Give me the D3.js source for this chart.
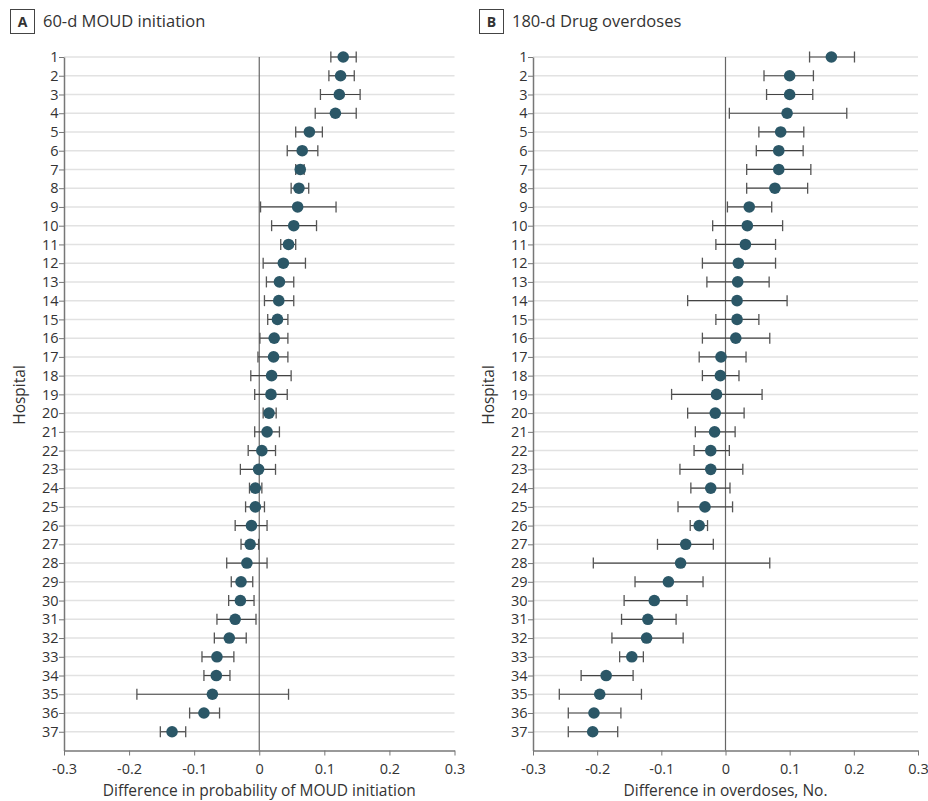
<!DOCTYPE html>
<html lang="en">

<head>
  <meta charset="utf-8">
  <title>Hospital forest plots</title>
  <script src="https://d3js.org/d3.v7.min.js" charset="utf-8"></script>
  <style type="text/css">
    body {
      margin: 0;
      background: #fff;
    }

    text {
      font-family: "Open Sans", "Noto Sans", sans-serif;
      fill: #333;
    }
  </style>
</head>

<body>
  <script type="text/javascript">
    // hospital ids 1..37, top to bottom
    var hospitals = d3.range(1, 38);

    // panel A: 60-d MOUD initiation
    var moudEst = [0.129, 0.125, 0.123, 0.117, 0.077, 0.066, 0.063, 0.061, 0.059, 0.053,
      0.045, 0.037, 0.031, 0.030, 0.028, 0.023, 0.022, 0.019, 0.018, 0.015,
      0.012, 0.004, -0.001, -0.006, -0.006, -0.012, -0.014, -0.019, -0.028, -0.029,
      -0.037, -0.046, -0.065, -0.066, -0.072, -0.085, -0.134];
    var moudLow = [0.110, 0.107, 0.094, 0.086, 0.056, 0.043, 0.056, 0.049, 0.002, 0.019,
      0.033, 0.006, 0.011, 0.008, 0.013, 0.001, -0.002, -0.013, -0.007, 0.006,
      -0.007, -0.017, -0.029, -0.015, -0.021, -0.037, -0.028, -0.050, -0.043, -0.047,
      -0.065, -0.069, -0.088, -0.085, -0.188, -0.107, -0.152];
    var moudHigh = [0.149, 0.146, 0.155, 0.149, 0.097, 0.090, 0.069, 0.076, 0.118, 0.088,
      0.056, 0.071, 0.053, 0.053, 0.044, 0.044, 0.044, 0.049, 0.043, 0.026,
      0.031, 0.025, 0.025, 0.004, 0.008, 0.012, -0.001, 0.012, -0.010, -0.008,
      -0.005, -0.020, -0.039, -0.045, 0.045, -0.061, -0.113];

    // panel B: 180-d drug overdoses
    var odEst = [0.165, 0.100, 0.100, 0.096, 0.086, 0.083, 0.083, 0.077, 0.037, 0.034,
      0.031, 0.020, 0.019, 0.018, 0.018, 0.016, -0.007, -0.008, -0.014, -0.016,
      -0.017, -0.023, -0.023, -0.023, -0.032, -0.041, -0.062, -0.070, -0.089, -0.111,
      -0.121, -0.123, -0.146, -0.186, -0.196, -0.205, -0.207];
    var odLow = [0.131, 0.060, 0.064, 0.006, 0.052, 0.048, 0.033, 0.033, 0.003, -0.020,
      -0.015, -0.036, -0.029, -0.059, -0.015, -0.036, -0.041, -0.036, -0.084, -0.059,
      -0.047, -0.049, -0.071, -0.054, -0.074, -0.055, -0.106, -0.206, -0.141, -0.158,
      -0.162, -0.177, -0.165, -0.225, -0.259, -0.245, -0.245];
    var odHigh = [0.201, 0.137, 0.136, 0.189, 0.122, 0.121, 0.133, 0.128, 0.072, 0.089,
      0.078, 0.078, 0.068, 0.096, 0.052, 0.069, 0.032, 0.021, 0.057, 0.029,
      0.015, 0.006, 0.027, 0.007, 0.011, -0.028, -0.019, 0.069, -0.035, -0.060,
      -0.077, -0.066, -0.128, -0.144, -0.131, -0.163, -0.168];

    var xTicks = [-0.3, -0.2, -0.1, 0, 0.1, 0.2, 0.3];

    var width = 928,
      height = 801,
      dotColor = "#2b5767";

    var svg = d3.select("body")
      .append("svg")
      .attr("width", width)
      .attr("height", height);

    function drawPanel(left, right, letter, title, xLabel, est, low, high) {
      var rows = hospitals.map(function (h, i) {
        return { id: h, est: est[i], low: low[i], high: high[i] };
      });

      var x = d3.scaleLinear().domain([-0.3, 0.3]).range([left, right]);
      var y = d3.scaleLinear().domain([1, 38]).range([57, 750.5]);

      var g = svg.append("g");

      // panel letter box + title
      g.append("rect")
        .attr("x", left - 53.5)
        .attr("y", 9.5)
        .attr("width", 24)
        .attr("height", 24)
        .attr("fill", "none")
        .attr("stroke", "#444")
        .attr("stroke-width", 1);
      g.append("text")
        .attr("x", left - 41.5)
        .attr("y", 27)
        .attr("text-anchor", "middle")
        .attr("font-size", "14px")
        .attr("font-weight", "bold")
        .text(letter);
      g.append("text")
        .attr("x", left - 21)
        .attr("y", 27)
        .attr("font-size", "16.5px")
        .text(title);

      // grid lines
      g.selectAll(".grid")
        .data(rows)
        .enter()
        .append("line")
        .attr("x1", left)
        .attr("x2", right)
        .attr("y1", function (d) { return y(d.id); })
        .attr("y2", function (d) { return y(d.id); })
        .attr("stroke", "#e2e2e2")
        .attr("stroke-width", 1.5);

      // zero line
      g.append("line")
        .attr("x1", x(0))
        .attr("x2", x(0))
        .attr("y1", y(1))
        .attr("y2", y(38))
        .attr("stroke", "#666")
        .attr("stroke-width", 1.2);

      // y axis
      var yAxis = g.append("g")
        .attr("transform", "translate(" + left + ",0)")
        .call(d3.axisLeft(y).tickValues(hospitals).tickFormat(d3.format("d")).tickSize(5).tickSizeOuter(0));
      yAxis.select(".domain").attr("stroke", "#777").attr("stroke-width", 1.5);
      yAxis.selectAll(".tick line").attr("stroke", "#777");
      yAxis.selectAll(".tick text")
        .attr("font-size", "14.5px")
        .attr("fill", "#333")
        .attr("font-family", "'Open Sans', sans-serif")
        .attr("x", -5.5);

      // x axis
      var xAxis = g.append("g")
        .attr("transform", "translate(0," + y(38) + ")")
        .call(d3.axisBottom(x).tickValues(xTicks).tickFormat(function (d) {
          return d === 0 ? "0" : d3.format(".1f")(d).replace("−", "-");
        }).tickSize(5).tickSizeOuter(0));
      xAxis.select(".domain").attr("stroke", "#777").attr("stroke-width", 1.5);
      xAxis.selectAll(".tick line").attr("stroke", "#777");
      xAxis.selectAll(".tick text")
        .attr("font-size", "14.5px")
        .attr("fill", "#333")
        .attr("font-family", "'Open Sans', sans-serif")
        .attr("dy", "1.05em");

      // axis titles
      g.append("text")
        .attr("x", x(0))
        .attr("y", 796)
        .attr("text-anchor", "middle")
        .attr("font-size", "15.5px")
        .text(xLabel);
      g.append("text")
        .attr("transform", "translate(" + (left - 39) + "," + 395 + ") rotate(-90)")
        .attr("text-anchor", "middle")
        .attr("font-size", "15.5px")
        .text("Hospital");

      // error bars
      var bars = g.selectAll(".ci")
        .data(rows)
        .enter()
        .append("g");
      bars.append("line")
        .attr("x1", function (d) { return x(d.low); })
        .attr("x2", function (d) { return x(d.high); })
        .attr("y1", function (d) { return y(d.id); })
        .attr("y2", function (d) { return y(d.id); })
        .attr("stroke", "#444")
        .attr("stroke-width", 1.2);
      ["low", "high"].forEach(function (k) {
        bars.append("line")
          .attr("x1", function (d) { return x(d[k]); })
          .attr("x2", function (d) { return x(d[k]); })
          .attr("y1", function (d) { return y(d.id) - 5.5; })
          .attr("y2", function (d) { return y(d.id) + 5.5; })
          .attr("stroke", "#555")
          .attr("stroke-width", 1.3);
      });

      // point estimates
      g.selectAll(".dot")
        .data(rows)
        .enter()
        .append("circle")
        .attr("cx", function (d) { return x(d.est); })
        .attr("cy", function (d) { return y(d.id); })
        .attr("r", 5.8)
        .attr("fill", dotColor);
    }

    drawPanel(64, 454.5, "A", "60-d MOUD initiation", "Difference in probability of MOUD initiation",
      moudEst, moudLow, moudHigh);
    drawPanel(533, 918, "B", "180-d Drug overdoses", "Difference in overdoses, No.",
      odEst, odLow, odHigh);
  </script>
</body>

</html>
